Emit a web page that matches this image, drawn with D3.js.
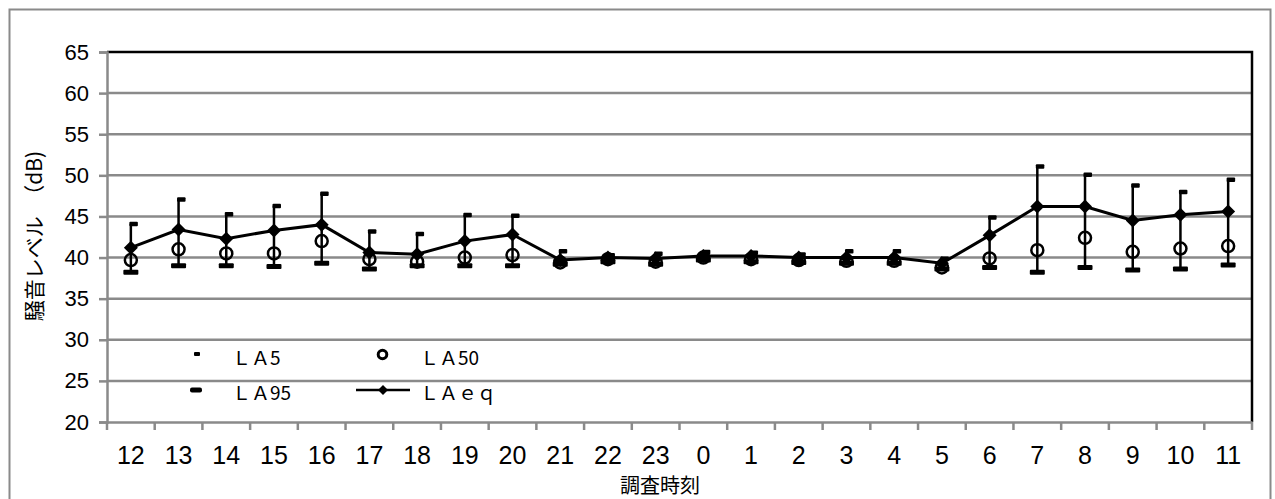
<!DOCTYPE html>
<html><head><meta charset="utf-8">
<script src="https://cdn.jsdelivr.net/npm/d3@7"></script>
<style>
body{margin:0;background:#fff;}
svg{display:block;}
.num{font-family:"Liberation Sans",Arial,sans-serif;}
.jp{font-family:"Noto Sans CJK JP",sans-serif;}
</style></head>
<body>
<svg id="chart" width="1275" height="499"></svg>
<script>
const categories = ["12","13","14","15","16","17","18","19","20","21","22","23","0","1","2","3","4","5","6","7","8","9","10","11"];
const LA5  = [44.1,47.1,45.3,46.3,47.8,43.2,42.9,45.2,45.1,40.8,40.3,40.5,40.7,40.6,40.4,40.8,40.8,39.9,44.9,51.1,50.1,48.8,48.0,49.5];
const LA50 = [39.7,41.0,40.5,40.5,42.0,39.8,39.5,40.0,40.3,39.4,39.8,39.5,40.0,39.8,39.7,39.6,39.6,38.8,39.9,40.9,42.4,40.7,41.1,41.4];
const LA95 = [38.2,39.0,39.0,38.9,39.3,38.6,39.0,39.0,39.0,39.2,39.5,39.2,39.7,39.5,39.4,39.3,39.3,38.6,38.8,38.2,38.8,38.5,38.6,39.1];
const LAeq = [41.2,43.4,42.3,43.3,44.0,40.6,40.4,42.0,42.8,39.7,40.0,39.9,40.2,40.2,40.0,40.0,40.0,39.3,42.7,46.2,46.2,44.5,45.2,45.6];
const yTicks = [20,25,30,35,40,45,50,55,60,65];
const yTitle = "騒音レベル　（dB)";
const xTitle = "調査時刻";
const legendNames = ["ＬＡ5","ＬＡ50","ＬＡ95","ＬＡｅｑ"];

const svg = d3.select("#chart");
const L = 107, R = 1252, T = 52, B = 422;
const x = d3.scaleBand().domain(categories).range([L, R]);
const y = d3.scaleLinear().domain([20, 65]).range([B, T]);
const cx = d => x(d) + x.bandwidth()/2;
const grid = "#8a8a8a";

// outer border
svg.append("rect").attr("x",9.5).attr("y",9.5).attr("width",1261).attr("height",520)
  .attr("fill","none").attr("stroke",grid).attr("stroke-width",2);

// gridlines
svg.append("g").selectAll("line").data(yTicks.filter(t=>t>20 && t<65)).join("line")
  .attr("x1",L).attr("x2",R).attr("y1",d=>y(d)).attr("y2",d=>y(d))
  .attr("stroke",grid).attr("stroke-width",2.5);

// plot border top & right (black)
svg.append("path").attr("d",`M${L},${y(65)}H${R}V${B}`).attr("fill","none")
  .attr("stroke","#000").attr("stroke-width",2.5);

// y axis
const yAxis = svg.append("g").attr("transform",`translate(${L},0)`)
  .call(d3.axisLeft(y).tickValues(yTicks).tickSize(8).tickPadding(10));
yAxis.select(".domain").attr("stroke",grid).attr("stroke-width",2.5);
yAxis.selectAll(".tick line").attr("stroke",grid).attr("stroke-width",2.5);
yAxis.selectAll("text").attr("class","num").attr("font-size",22).attr("fill","#000");

// x axis
const xAxis = svg.append("g").attr("transform",`translate(0,${B})`)
  .call(d3.axisBottom(x).tickSize(0).tickPadding(24));
xAxis.select(".domain").attr("stroke",grid).attr("stroke-width",2.5);
xAxis.selectAll("text").attr("class","num").attr("font-size",25).attr("fill","#000");
svg.append("g").selectAll("line").data(d3.range(categories.length+1)).join("line")
  .attr("x1",i=>L+i*x.step()).attr("x2",i=>L+i*x.step()).attr("y1",B).attr("y2",B+8)
  .attr("stroke",grid).attr("stroke-width",2.5);

// titles
svg.append("text").attr("class","jp").attr("x",660).attr("y",493).attr("text-anchor","middle")
  .attr("font-size",20).text(xTitle);
svg.append("text").attr("class","jp").attr("transform","translate(42,236) rotate(-90)")
  .attr("text-anchor","middle").attr("font-size",21).text(yTitle);

// high-low lines
svg.append("g").selectAll("line").data(categories).join("line")
  .attr("x1",cx).attr("x2",cx).attr("y1",(d,i)=>y(LA95[i])).attr("y2",(d,i)=>y(LA5[i]))
  .attr("stroke","#000").attr("stroke-width",2.5);
// LA95 markers
svg.append("g").selectAll("rect").data(categories).join("rect")
  .attr("x",d=>cx(d)-7.5).attr("y",(d,i)=>y(LA95[i])-2.5).attr("width",15).attr("height",5)
  .attr("rx",1).attr("fill","#000");
// LA5 markers
svg.append("g").selectAll("rect").data(categories).join("rect")
  .attr("x",d=>cx(d)-1.5).attr("y",(d,i)=>y(LA5[i])-2).attr("width",8.5).attr("height",4.5)
  .attr("rx",1).attr("fill","#000");
// LA50 circles
svg.append("g").selectAll("circle").data(categories).join("circle")
  .attr("cx",cx).attr("cy",(d,i)=>y(LA50[i])).attr("r",6)
  .attr("fill","none").attr("stroke","#000").attr("stroke-width",2.5);
// LAeq line
const line = d3.line().x((d,i)=>cx(categories[i])).y(d=>y(d));
svg.append("path").datum(LAeq).attr("d",line).attr("fill","none")
  .attr("stroke","#000").attr("stroke-width",3);
const diamond = (px,py,s)=>`M${px},${py-s}L${px+s},${py}L${px},${py+s}L${px-s},${py}Z`;
svg.append("g").selectAll("path").data(categories).join("path")
  .attr("d",(d,i)=>diamond(cx(d),y(LAeq[i]),7)).attr("fill","#000");

// legend
const lg = svg.append("g");
lg.append("rect").attr("x",194).attr("y",352).attr("width",6).attr("height",4).attr("rx",1).attr("fill","#000");
lg.append("rect").attr("x",190).attr("y",387.5).attr("width",12).attr("height",5).attr("rx",2).attr("fill","#000");
lg.append("circle").attr("cx",382.5).attr("cy",354.5).attr("r",4.3).attr("fill","none").attr("stroke","#000").attr("stroke-width",3);
lg.append("line").attr("x1",356).attr("x2",410).attr("y1",390).attr("y2",390).attr("stroke","#000").attr("stroke-width",2.5);
lg.append("path").attr("d",diamond(383,390,5)).attr("fill","#000");
const legPos = [[232,365],[420,365],[232,400],[420,400]];
lg.selectAll("text").data(legendNames).join("text").attr("class","jp")
  .attr("x",(d,i)=>legPos[i][0]).attr("y",(d,i)=>legPos[i][1]).attr("font-size",19).text(d=>d);
</script>
</body></html>
